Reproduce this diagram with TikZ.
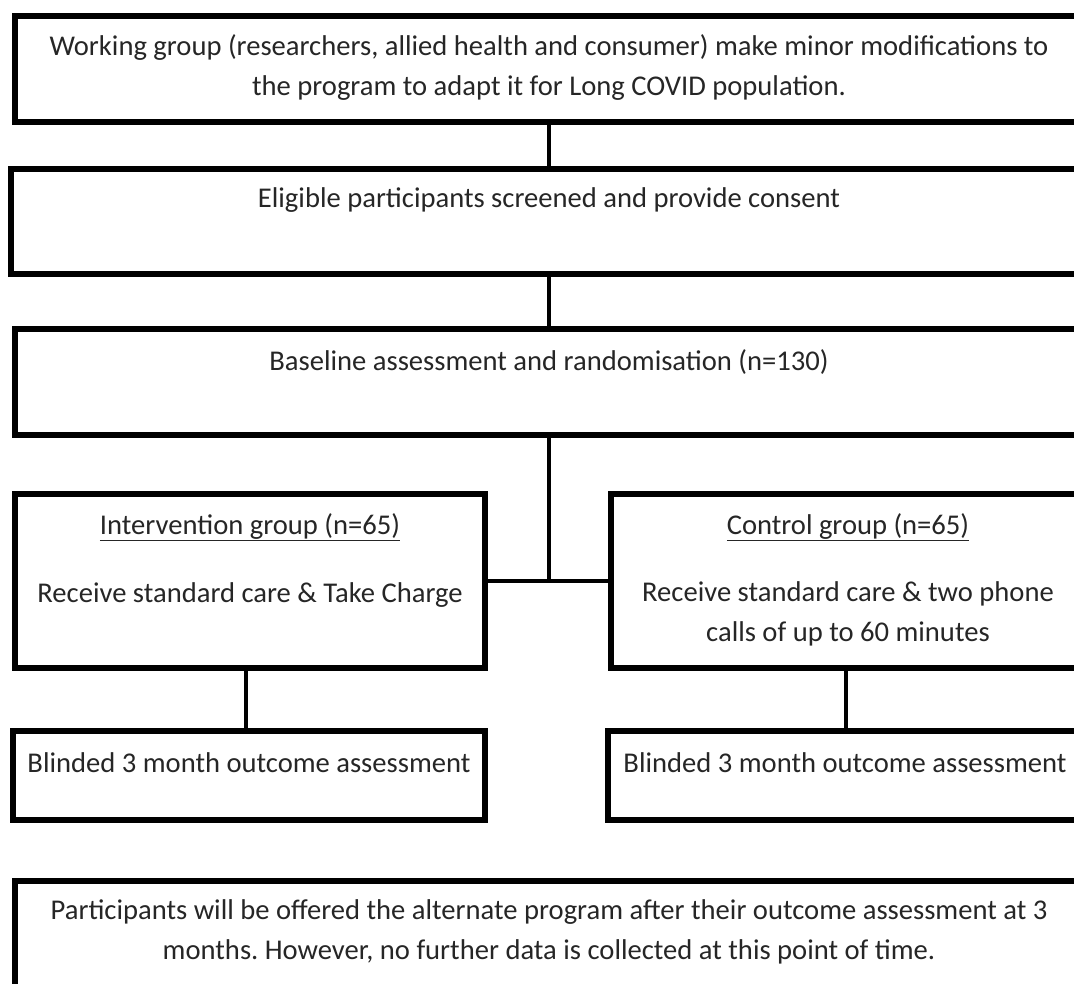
\documentclass[tikz,border=0pt]{standalone}
\usepackage{fontspec}
\setmainfont{Carlito}
\frenchspacing
\begin{document}
\begin{tikzpicture}[x=1pt,y=-1pt,
  box/.style={draw=black, line width=5.5pt, fill=white, inner sep=0pt, minimum width=1070pt},
  conn/.style={draw=black, line width=4pt},
  txt/.style={font=\fontsize{28.6}{40}\selectfont\frenchspacing, align=center, inner sep=0pt, text=black!85}]
\useasboundingbox (0,0) rectangle (1074,984);
\clip (0,0) rectangle (1074,984);
% boxes
\node[box, minimum width=1070pt, minimum height=106pt] (b1) at (550,69) {};
\node[box, minimum width=1078pt, minimum height=105pt] (b2) at (550,221.5) {};
\node[box, minimum width=1070pt, minimum height=106pt] (b3) at (550,382) {};
\node[box, minimum width=470pt, minimum height=174pt] (int) at (250,581) {};
\node[box, minimum width=474pt, minimum height=174pt] (ctl) at (848,581) {};
\node[box, minimum width=472pt, minimum height=89pt] (bl) at (249,775.5) {};
\node[box, minimum width=478pt, minimum height=89pt] (br) at (847,775.5) {};
\node[box, minimum width=1070pt, minimum height=140pt] (b4) at (550,951) {};
% texts
\node[txt] (t1) at (549,68) {Working group (researchers, allied health and consumer) make minor modifications to\\the program to adapt it for Long COVID population.};
\node[txt] (t2) at (549,200) {Eligible participants screened and provide consent};
\node[txt] (t3) at (549,362) {Baseline assessment and randomisation (n=130)};
\node[txt] (t4) at (250,527) {\underline{Intervention group (n=65)}};
\node[txt] (t5) at (250,595) {Receive standard care \& Take Charge};
\node[txt] (t6) at (848,527) {\underline{Control group (n=65)}};
\node[txt] (t7) at (848,614) {Receive standard care \& two phone\\calls of up to 60 minutes};
\node[txt] (t8) at (249,763) {Blinded 3 month outcome assessment};
\node[txt] (t9) at (845,763) {Blinded 3 month outcome assessment};
\node[txt] (t10) at (549,932) {Participants will be offered the alternate program after their outcome assessment at 3\\months. However, no further data is collected at this point of time.};
% connectors
\coordinate (j) at (549,581);
\draw[conn] (b1.south -| j) -- (b2.north -| j);
\draw[conn] (b2.south -| j) -- (b3.north -| j);
\draw[conn] (b3.south -| j) -- (j);
\draw[conn] (int.east |- j) -- (ctl.west |- j);
\coordinate (lx) at (246,0);
\coordinate (rx) at (846,0);
\draw[conn] (int.south -| lx) -- (bl.north -| lx);
\draw[conn] (ctl.south -| rx) -- (br.north -| rx);
\end{tikzpicture}
\end{document}
